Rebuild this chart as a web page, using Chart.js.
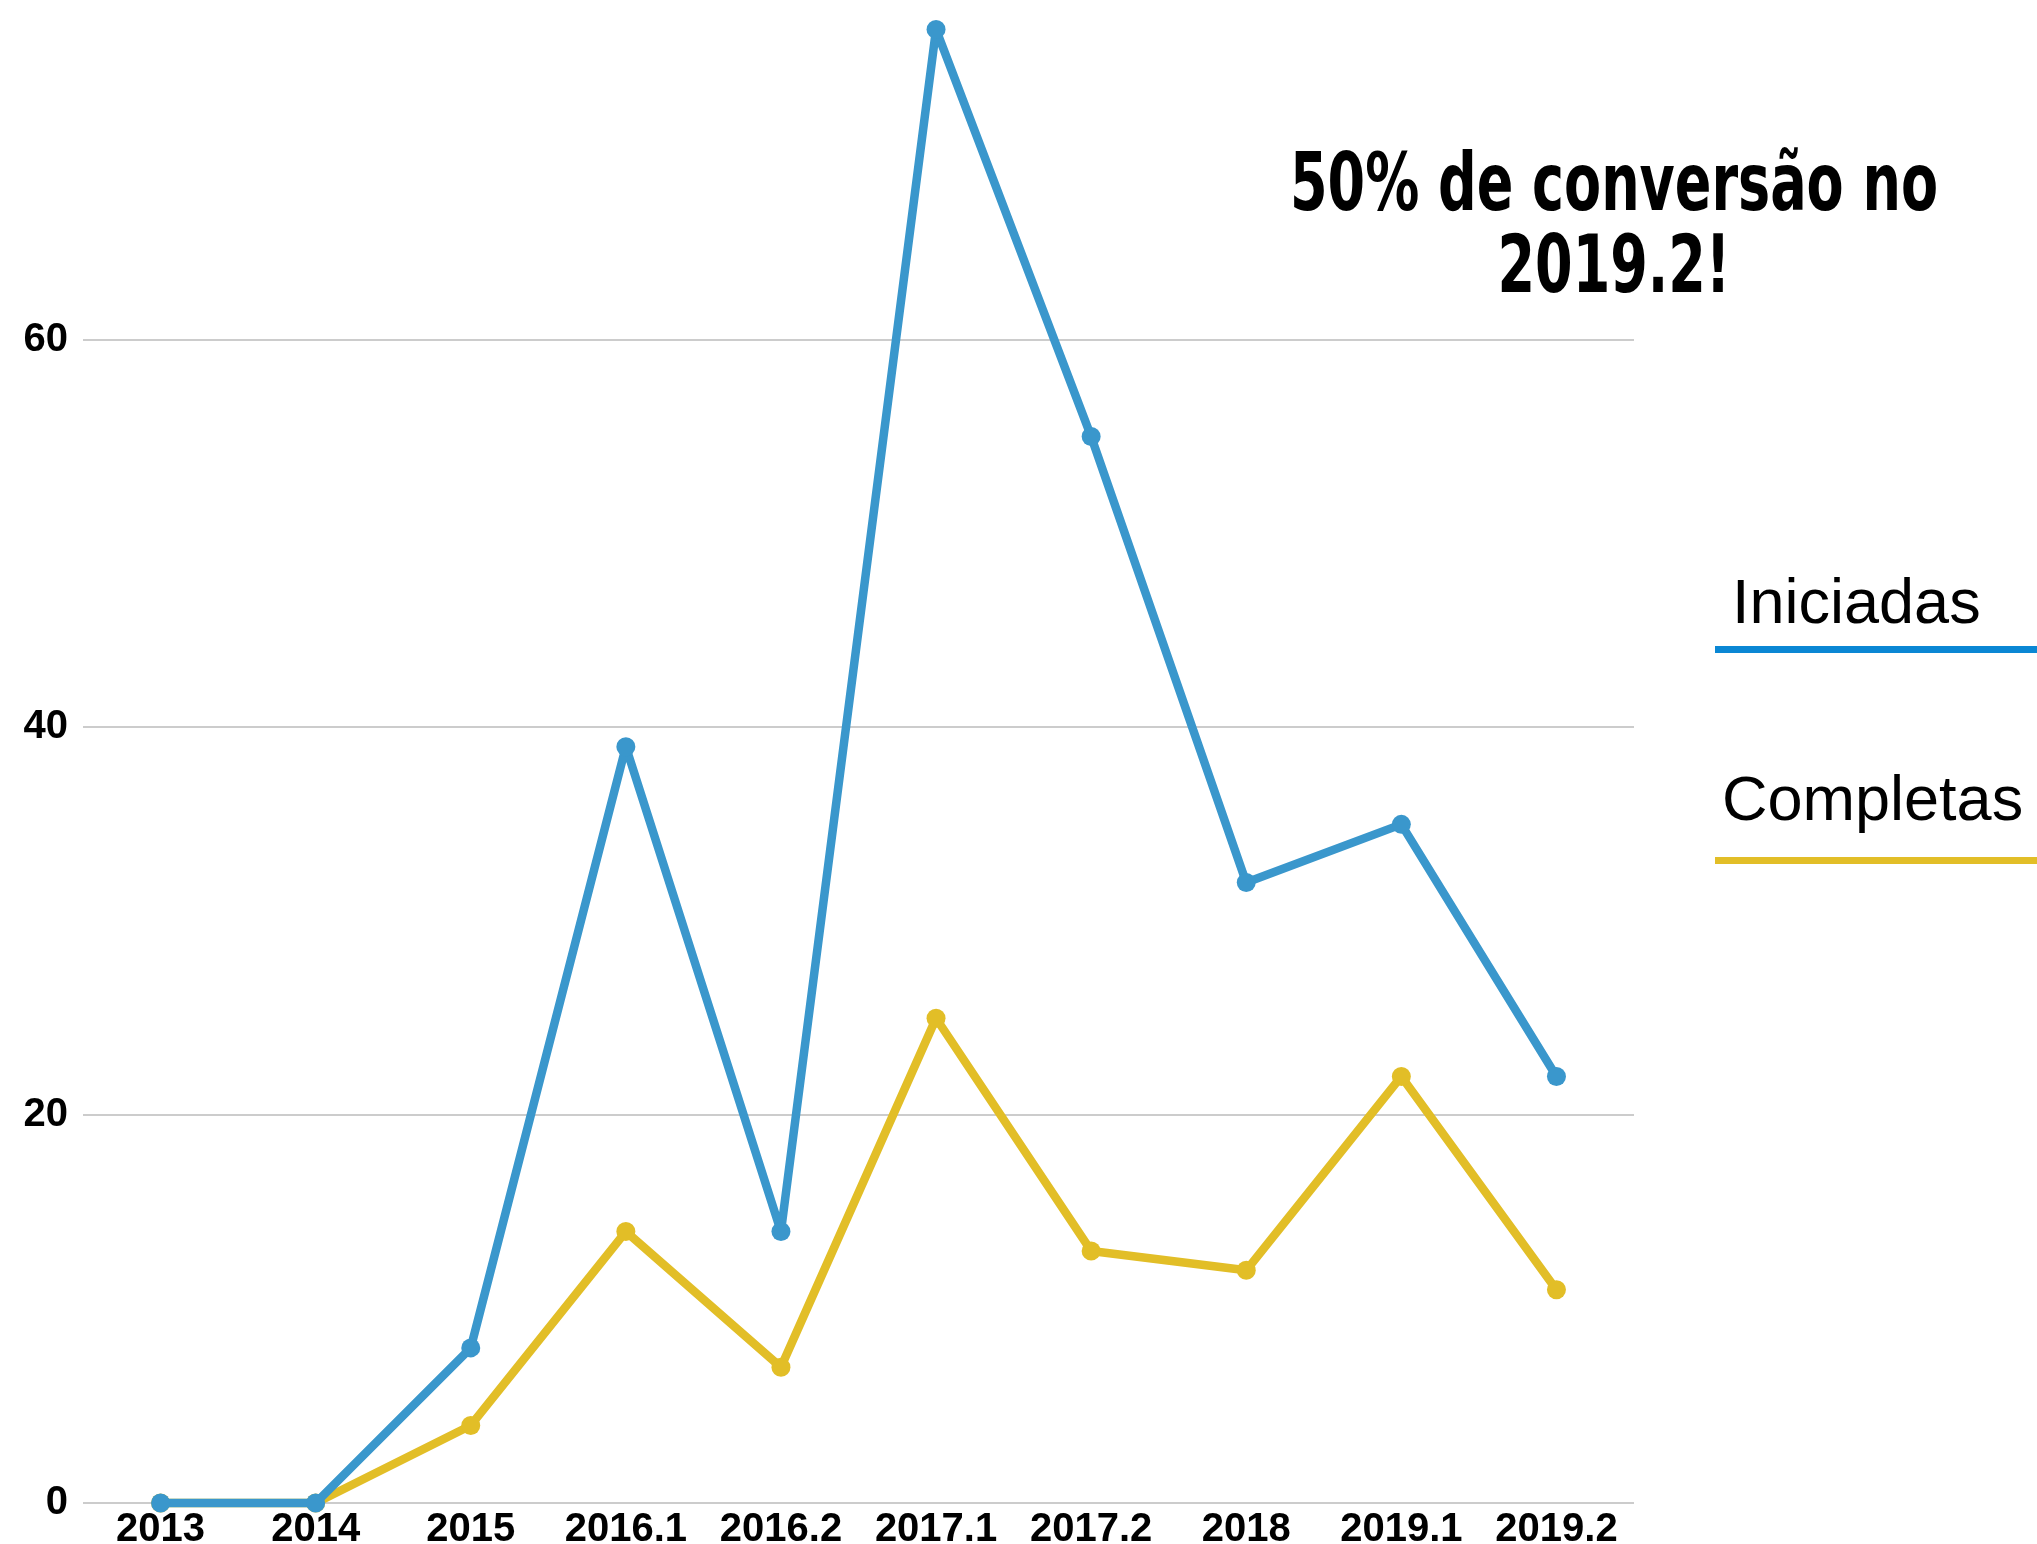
<!DOCTYPE html>
<html>
<head>
<meta charset="utf-8">
<script src="https://cdn.jsdelivr.net/npm/chart.js@4.4.0/dist/chart.umd.min.js"></script>
<style>
  html, body { margin: 0; padding: 0; background: #fff; overflow: hidden; }
  #wrap { width: 2037px; height: 1544px; position: relative; }
</style>
</head>
<body>
<div id="wrap"><canvas id="myChart"></canvas></div>
<script>
const categories = ["2013", "2014", "2015", "2016.1", "2016.2", "2017.1", "2017.2", "2018", "2019.1", "2019.2"];
const iniciadas = [0, 0, 8, 39, 14, 76, 55, 32, 35, 22];
const completas = [0, 0, 4, 14, 7, 25, 13, 12, 22, 11];
const yTicks = [0, 20, 40, 60];
const titleLines = ["50% de conversão no", "2019.2!"];

const blue = "#3a97cc";
const yellow = "#e2be27";

// title + right-hand legend, drawn by hand
const extras = {
  id: "extras",
  afterDraw(chart) {
    const ctx = chart.ctx;
    ctx.save();

    // condensed bold title
    ctx.fillStyle = "#000";
    ctx.textBaseline = "alphabetic";
    ctx.textAlign = "left";
    ctx.font = "bold 81px 'Liberation Sans Narrow', 'DejaVu Sans Condensed', 'Liberation Sans'";
    const w1 = ctx.measureText(titleLines[0]).width;
    const sx = 648 / w1;
    const cx = 1614;
    [[titleLines[0], 210], [titleLines[1], 292]].forEach(([t, y]) => {
      const w = ctx.measureText(t).width * sx;
      ctx.save();
      ctx.translate(cx - w / 2, y);
      ctx.scale(sx, 1);
      ctx.fillText(t, 0, 0);
      ctx.restore();
    });

    // legend
    ctx.font = "63px 'Liberation Sans', Arial, sans-serif";
    ctx.fillText("Iniciadas", 1732, 623);
    ctx.fillText("Completas", 1722, 820);
    ctx.fillStyle = "#0a87d4";
    ctx.fillRect(1715, 646, 330, 7);
    ctx.fillStyle = yellow;
    ctx.fillRect(1715, 857, 330, 7);
    ctx.restore();
  }
};

const lineStyle = {
  borderWidth: 8.5,
  pointRadius: 9.5,
  pointBorderWidth: 0,
  borderJoinStyle: "round",
  borderCapStyle: "round",
  tension: 0,
  clip: false,
};

const ctx = document.getElementById("myChart").getContext("2d");
new Chart(ctx, {
  type: "line",
  data: {
    labels: categories,
    datasets: [
      {
        label: "Iniciadas",
        data: iniciadas,
        borderColor: blue,
        backgroundColor: blue,
        pointBackgroundColor: blue,
        ...lineStyle,
      },
      {
        label: "Completas",
        data: completas,
        borderColor: yellow,
        backgroundColor: yellow,
        pointBackgroundColor: yellow,
        ...lineStyle,
      },
    ],
  },
  options: {
    responsive: true,
    maintainAspectRatio: false,
    animation: false,
    layout: { padding: { top: 10, right: 403, left: 0, bottom: 0 } },
    plugins: {
      legend: { display: false },
      tooltip: { enabled: false },
    },
    scales: {
      x: {
        offset: true,
        grid: { display: false, drawTicks: false },
        border: { display: false },
        afterFit(axis) {
          axis.height = 41;
          axis.paddingLeft = 0;
          axis.paddingRight = 0;
        },
        ticks: {
          color: "#000",
          padding: 7,
          maxRotation: 0,
          autoSkip: false,
          font: { family: "'Liberation Sans', Arial, sans-serif", size: 40, weight: "bold", lineHeight: 1 },
        },
      },
      y: {
        min: 0,
        max: 77,
        grid: { color: "#cccccc", lineWidth: 2, drawTicks: false },
        border: { display: false },
        afterBuildTicks(axis) {
          axis.ticks = yTicks.map(v => ({ value: v }));
        },
        afterFit(axis) {
          axis.width = 83;
          axis.paddingTop = 0;
          axis.paddingBottom = 0;
        },
        ticks: {
          color: "#000",
          padding: 15,
          includeBounds: false,
          font: { family: "'Liberation Sans', Arial, sans-serif", size: 40, weight: "bold" },
        },
      },
    },
  },
  plugins: [extras],
});
</script>
</body>
</html>
